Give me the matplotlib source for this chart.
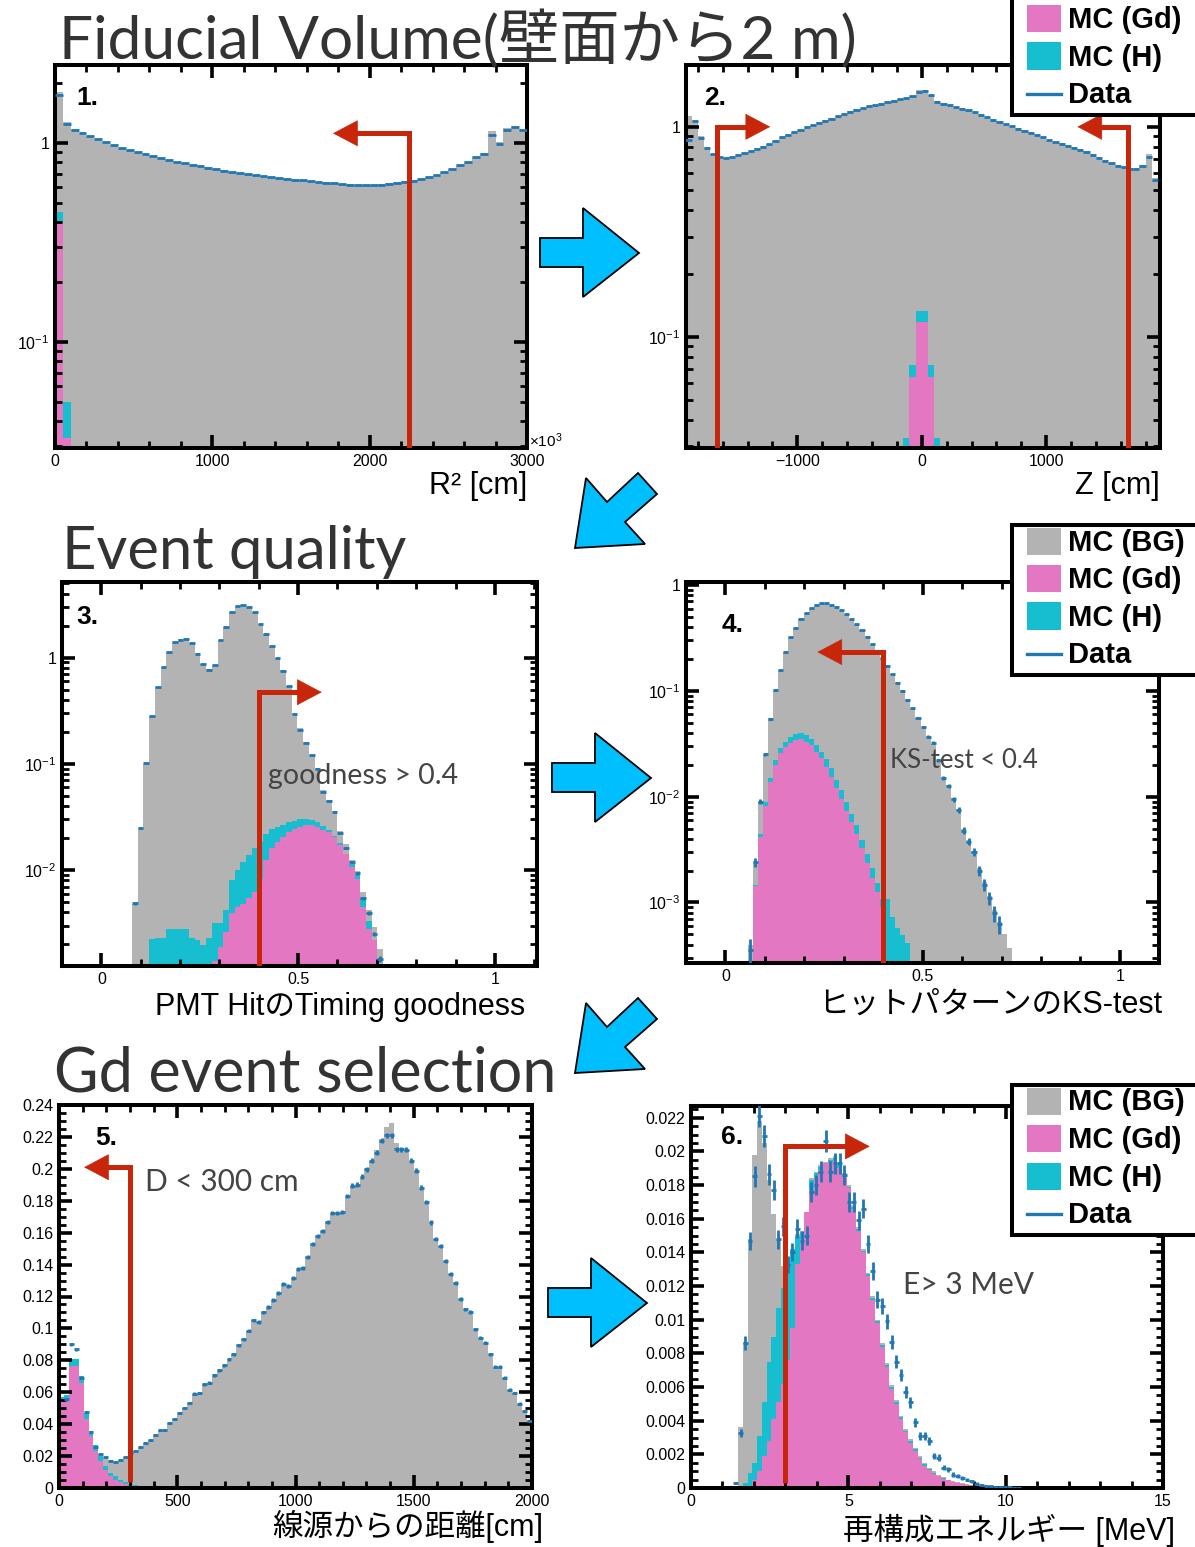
import numpy as np
import matplotlib
matplotlib.use("Agg")
import matplotlib.pyplot as plt
from matplotlib.patches import Polygon, Rectangle
from matplotlib.lines import Line2D
from matplotlib.ticker import LogLocator, MultipleLocator, FuncFormatter, NullFormatter

plt.rcParams["font.family"] = ["Liberation Sans", "Noto Sans CJK JP"]
plt.rcParams["mathtext.fontset"] = "custom"
plt.rcParams["mathtext.rm"] = "Liberation Sans"
plt.rcParams["mathtext.it"] = "Liberation Sans:italic"
plt.rcParams["mathtext.bf"] = "Liberation Sans:bold"

GRAY = "#b3b3b3"
PINK = "#e377c2"
CYAN = "#17becf"
BLUE = "#1f77b4"
RED = "#c8260b"
SKY = "#00bfff"
THIN = ["Lato", "Noto Sans CJK JP"]

# ---- 1. R^2 (x10^3 cm^2) ----
p1_edges = np.linspace(0, 3000, 61)
p1_mc = [1.80, 1.27, 1.18, 1.13, 1.09, 1.05, 1.01, 0.98, 0.95, 0.925,
         0.905, 0.882, 0.86, 0.842, 0.825, 0.808, 0.792, 0.779, 0.767, 0.755,
         0.742, 0.729, 0.718, 0.708, 0.700, 0.691, 0.683, 0.677, 0.670, 0.664,
         0.658, 0.652, 0.646, 0.640, 0.635, 0.630, 0.625, 0.622, 0.619, 0.617,
         0.619, 0.622, 0.627, 0.634, 0.642, 0.650, 0.662, 0.677, 0.693, 0.717,
         0.742, 0.775, 0.805, 0.85, 0.89, 1.15, 1.01, 1.19, 1.22, 1.18]
p1_data = [1.75, 1.25, 1.17, 1.12, 1.08, 1.045, 1.01, 0.975, 0.945, 0.925,
           0.905, 0.88, 0.857, 0.838, 0.822, 0.806, 0.79, 0.776, 0.765, 0.752,
           0.739, 0.726, 0.715, 0.705, 0.697, 0.688, 0.68, 0.674, 0.668, 0.662,
           0.655, 0.65, 0.644, 0.638, 0.633, 0.628, 0.623, 0.619, 0.616, 0.615,
           0.616, 0.618, 0.624, 0.632, 0.64, 0.647, 0.66, 0.675, 0.69, 0.715,
           0.74, 0.775, 0.80, 0.85, 0.88, 1.10, 0.99, 1.17, 1.20, 1.16]
p1_gdh = [0.45, 0.05]
p1_gd = [0.40, 0.033]

# ---- 2. Z (cm) ----
p2_edges = np.linspace(-1900, 1900, 77)
p2_mc = [1.13, 1.08, 0.90, 0.80, 0.745, 0.72, 0.712, 0.722, 0.737, 0.752,
         0.77, 0.79, 0.81, 0.83, 0.86, 0.895, 0.92, 0.945, 0.97, 1.0,
         1.025, 1.05, 1.075, 1.10, 1.125, 1.155, 1.185, 1.21, 1.235, 1.255,
         1.275, 1.295, 1.315, 1.335, 1.355, 1.375, 1.405, 1.49, 1.50, 1.42,
         1.33, 1.295, 1.27, 1.245, 1.225, 1.205, 1.18, 1.145, 1.115, 1.085,
         1.06, 1.035, 1.01, 0.985, 0.965, 0.94, 0.917, 0.895, 0.87, 0.85,
         0.833, 0.815, 0.8, 0.783, 0.765, 0.74, 0.715, 0.695, 0.675, 0.655,
         0.645, 0.632, 0.635, 0.655, 0.74, 0.57]
p2_data = [0.87, 1.06, 0.88, 0.79, 0.74, 0.715, 0.707, 0.718, 0.733, 0.748,
           0.765, 0.785, 0.805, 0.825, 0.855, 0.89, 0.915, 0.94, 0.965, 0.995,
           1.02, 1.045, 1.07, 1.095, 1.12, 1.15, 1.18, 1.205, 1.23, 1.25,
           1.27, 1.29, 1.31, 1.33, 1.35, 1.37, 1.40, 1.47, 1.48, 1.41,
           1.32, 1.29, 1.265, 1.24, 1.22, 1.20, 1.175, 1.14, 1.11, 1.08,
           1.055, 1.03, 1.005, 0.98, 0.96, 0.935, 0.912, 0.89, 0.865, 0.845,
           0.828, 0.81, 0.795, 0.778, 0.76, 0.735, 0.71, 0.69, 0.67, 0.65,
           0.64, 0.627, 0.63, 0.65, 0.72, 0.557]
p2_gdh = [0.033, 0.073, 0.132, 0.132, 0.073, 0.033]
p2_gd = [0.02, 0.064, 0.118, 0.118, 0.064, 0.02]

# ---- 3. timing goodness ----
p3_edges = 0.0778 + 0.0145 * np.arange(45)
p3_mc = [0.0048, 0.025, 0.10, 0.28, 0.53, 0.82, 1.13, 1.40, 1.48, 1.50,
         1.38, 1.10, 0.87, 0.78, 0.86, 1.45, 1.95, 2.68, 3.05, 3.15,
         3.0, 2.69, 2.07, 1.66, 1.29, 0.99, 0.76, 0.54, 0.30, 0.215,
         0.16, 0.122, 0.092, 0.057, 0.046, 0.036, 0.0235, 0.0175, 0.0125, 0.0098,
         0.0062, 0.0042, 0.0029, 0.0018]
p3_data = [0.00485, 0.0249, 0.102, 0.282, 0.53, 0.816, 1.13, 1.40, 1.47, 1.51,
           1.37, 1.09, 0.865, 0.77, 0.85, 1.45, 1.94, 2.68, 3.04, 3.15,
           2.99, 2.68, 2.06, 1.65, 1.28, 0.98, 0.75, 0.537, 0.293, 0.21,
           0.157, 0.12, 0.090, 0.0544, 0.0448, 0.0353, 0.0221, 0.016, 0.0119, 0.0093,
           0.0054, 0.00396, 0.0025, 0.00147]
p3_gdh = [0, 0, 0, 0.00222, 0.0023, 0.0023, 0.00276, 0.00276, 0.00276, 0.00276,
          0.0023, 0.0022, 0.00196, 0.0023, 0.00315, 0.00315, 0.0042, 0.008, 0.010, 0.0118,
          0.0140, 0.016, 0.0184, 0.022, 0.0246, 0.0255, 0.0265, 0.0284, 0.029, 0.030,
          0.030, 0.0295, 0.0284, 0.026, 0.024, 0.021, 0.0178, 0.0143, 0.0115, 0.009,
          0.0055, 0.0033, 0.0022, 0]
p3_gd = [0, 0, 0, 0, 0, 0, 0, 0, 0, 0,
         0, 0, 0, 0, 0.0014, 0.0019, 0.0026, 0.0039, 0.0045, 0.0048,
         0.0054, 0.0062, 0.0083, 0.0124, 0.0160, 0.0185, 0.0205, 0.0230, 0.0242, 0.0255,
         0.0265, 0.0265, 0.0255, 0.0240, 0.0228, 0.0205, 0.0171, 0.0143, 0.0107, 0.0083,
         0.0045, 0.0028, 0.0022, 0]

# ---- 4. KS-test ----
p4_edges = 0.056 + 0.0129 * np.arange(53)
p4_mc = [4.0e-4, 0.0024, 0.0092, 0.0255, 0.055, 0.103, 0.158, 0.235, 0.322, 0.397,
         0.483, 0.542, 0.604, 0.649, 0.673, 0.673, 0.649, 0.618, 0.582, 0.53,
         0.476, 0.427, 0.378, 0.327, 0.277, 0.24, 0.205, 0.174, 0.146, 0.122,
         0.101, 0.083, 0.069, 0.056, 0.046, 0.0375, 0.0315, 0.022, 0.0155, 0.0128,
         0.0097, 0.0077, 0.0050, 0.0039, 0.0031, 0.0021, 0.00155, 0.00115, 0.00085, 0.00065,
         5.0e-4, 3.7e-4]
p4_data = [3.57e-4, 0.00239, 0.009, 0.0252, 0.0543, 0.102, 0.157, 0.234, 0.321, 0.395,
           0.481, 0.54, 0.602, 0.647, 0.671, 0.671, 0.647, 0.616, 0.58, 0.528,
           0.474, 0.425, 0.376, 0.325, 0.275, 0.238, 0.203, 0.172, 0.144, 0.12,
           0.1, 0.082, 0.0685, 0.055, 0.0453, 0.037, 0.0324, 0.022, 0.015, 0.0125,
           0.00946, 0.0075, 0.00479, 0.00377, 0.00299, 0.002, 0.00147, 0.0011, 0.00079, 0.00062,
           0, 0]
p4_gdh = [0, 0.00145, 0.0044, 0.009, 0.0149, 0.022, 0.0287, 0.033, 0.037, 0.039,
          0.040, 0.038, 0.035, 0.031, 0.0267, 0.0225, 0.0185, 0.0145, 0.0115, 0.009,
          0.0069, 0.0054, 0.0039, 0.0029, 0.0021, 0.00153, 0.00107, 0.00107, 0.00073, 0.00058,
          0.00049, 0.00041]
p4_gd = [0, 0.00142, 0.0042, 0.0081, 0.0139, 0.020, 0.0258, 0.0297, 0.0324, 0.0345,
         0.035, 0.033, 0.031, 0.0267, 0.0232, 0.0192, 0.0155, 0.012, 0.0095, 0.0074,
         0.0058, 0.0044, 0.00327, 0.00234, 0.00172, 0.00127, 0.00091, 0, 0, 0,
         0, 0]

# ---- 5. distance from source (cm) ----
p5_edges = np.linspace(0, 2000, 97)
p5_mc = [0.057, 0.058, 0.0806, 0.0806, 0.070, 0.047, 0.0356, 0.027, 0.0215, 0.0195,
         0.0175, 0.0165, 0.0178, 0.0193, 0.022, 0.0234, 0.0257, 0.0282, 0.0299, 0.0335,
         0.0362, 0.0366, 0.0408, 0.0433, 0.047, 0.0502, 0.0534, 0.0592, 0.0596, 0.0649,
         0.0659, 0.0707, 0.0737, 0.0768, 0.0806, 0.0837, 0.0893, 0.0931, 0.0986, 0.105,
         0.104, 0.110, 0.1136, 0.1176, 0.1224, 0.1276, 0.1266, 0.1318, 0.137, 0.138,
         0.1448, 0.1527, 0.158, 0.161, 0.1668, 0.1722, 0.1722, 0.173, 0.183, 0.1894,
         0.19, 0.195, 0.2, 0.205, 0.212, 0.219, 0.226, 0.229, 0.216, 0.213,
         0.212, 0.205, 0.1988, 0.1883, 0.1793, 0.1664, 0.1559, 0.1517, 0.1423, 0.1339,
         0.1287, 0.1186, 0.1119, 0.1103, 0.0994, 0.0942, 0.091, 0.0837, 0.076, 0.076,
         0.069, 0.0617, 0.0596, 0.0529, 0.0481, 0.0425]
p5_data = [0, 0.0555, 0.090, 0.0868, 0.069, 0.0475, 0.035, 0.0257, 0.021, 0.0193,
           0.0172, 0.0163, 0.0178, 0.0193, 0.022, 0.0234, 0.0257, 0.0282, 0.0299, 0.0335,
           0.0362, 0.0366, 0.0408, 0.0433, 0.047, 0.0502, 0.0534, 0.0592, 0.0596, 0.0649,
           0.0659, 0.0707, 0.0737, 0.0768, 0.0806, 0.0837, 0.0893, 0.0931, 0.0986, 0.105,
           0.104, 0.110, 0.1136, 0.1176, 0.1224, 0.1276, 0.1266, 0.1318, 0.137, 0.138,
           0.1448, 0.1527, 0.158, 0.161, 0.1668, 0.1722, 0.1722, 0.173, 0.183, 0.1894,
           0.19, 0.195, 0.1998, 0.205, 0.210, 0.2176, 0.221, 0.221, 0.2124, 0.2124,
           0.212, 0.205, 0.1988, 0.1883, 0.1793, 0.1664, 0.1559, 0.1517, 0.1423, 0.1339,
           0.1287, 0.1186, 0.1119, 0.1103, 0.0994, 0.0942, 0.091, 0.0837, 0.076, 0.076,
           0.069, 0.0617, 0.0596, 0.0529, 0.0481, 0.0418]
p5_gdh = [0.057, 0.058, 0.0806, 0.0806, 0.070, 0.047, 0.0356, 0.027, 0.020, 0.0136,
          0.0094, 0.0073, 0.0052, 0.0036, 0.0027, 0.002, 0.0015, 0.0011, 0.0008, 0.0005, 0.0003]
p5_gd = [0.055, 0.0565, 0.0764, 0.0764, 0.066, 0.043, 0.0324, 0.023, 0.0167, 0.0115,
         0.0073, 0.0052, 0.0036, 0.0025, 0.0017, 0.0012, 0.0008, 0.0005, 0.0003, 0.0002, 0.0001]

# ---- 6. reconstructed energy (MeV) ----
p6_edges = 1.35 + 0.15 * np.arange(62)
p6_mc = [0, 0.0036, 0.0087, 0.0148, 0.0198, 0.0218, 0.0205, 0.0183, 0.0163, 0.0148,
         0.0132, 0.0128, 0.0142, 0.0151, 0.0153, 0.0159, 0.0184, 0.0188, 0.0192, 0.0194,
         0.0196, 0.0197, 0.0193, 0.0187, 0.0180, 0.0168, 0.0155, 0.0142, 0.0128, 0.0114,
         0.0100, 0.0086, 0.0074, 0.0061, 0.0052, 0.0043, 0.0035, 0.0029, 0.0024, 0.0019,
         0.0015, 0.0012, 0.0010, 0.0008, 0.00065, 0.0005, 0.0004, 0.00033, 0.00027, 0.00022,
         0.00018, 0.00015, 0.00012, 0.0001, 0.00008, 0.00006, 0.00005, 0.00004, 0.00003, 0.00002,
         0.00001]
p6_data = [0.0003, 0.00327, 0.00862, 0.01467, 0.01853, 0.0221, 0.0209, 0.01863, 0.0177, 0.01477,
           0.01556, 0.01328, 0.0140, 0.0154, 0.0147, 0.0150, 0.0176, 0.0180, 0.0188, 0.0206,
           0.0188, 0.0193, 0.0193, 0.0186, 0.0170, 0.0170, 0.0159, 0.0166, 0.0145, 0.0129,
           0.0112, 0.0108, 0.0099, 0.0087, 0.0075, 0.0067, 0.0057, 0.0051, 0.0039, 0.0031,
           0.0031, 0.0028, 0.0019, 0.0018, 0.0012, 0.0011, 0.0008, 0.0007, 0.0006, 0.0005,
           0.0004, 0.00026, 0.0002, 0.00014, 0.0001, 0.00008, 0.00006, 0.00004, 0.00003, 0.00002,
           0.00001]
p6_gdh = [0, 0, 0.0003, 0.0009, 0.0015, 0.0031, 0.0051, 0.0075, 0.009, 0.0107,
          0.0119, 0.0132, 0.0142, 0.015, 0.0152, 0.0158, 0.0183, 0.0187, 0.0191, 0.0193,
          0.0195, 0.0196, 0.0192, 0.0186, 0.0179, 0.0167, 0.0154, 0.0141, 0.0127, 0.0113,
          0.0099, 0.0085, 0.0073, 0.0060, 0.0051, 0.0042, 0.0034, 0.0028, 0.0023, 0.0018,
          0.0014, 0.0011, 0.0009, 0.0007, 0.00058, 0.00047, 0.00038, 0.00031, 0.00025, 0.0002,
          0.00017, 0.00014, 0.00012, 0.0001, 0.00008, 0.00006, 0.00005, 0.00004, 0.00003, 0.00002,
          0.00001]
p6_gd = [0, 0, 0, 0, 0.0005, 0.001, 0.0019, 0.0028, 0.0041, 0.0051,
         0.0062, 0.0076, 0.0095, 0.0133, 0.0148, 0.0164, 0.0177, 0.0184, 0.0189, 0.0193,
         0.0194, 0.0195, 0.019, 0.0185, 0.0178, 0.0166, 0.0153, 0.014, 0.0126, 0.0112,
         0.0098, 0.0084, 0.0072, 0.0059, 0.005, 0.0041, 0.0033, 0.0027, 0.0022, 0.0017,
         0.0013, 0.00105, 0.00085, 0.0007, 0.00055, 0.00045, 0.00036, 0.0003, 0.00024, 0.0002,
         0.00016, 0.00014, 0.00012, 0.0001, 0.00008, 0.00006, 0.00005, 0.00004, 0.00003, 0.00002,
         0.00001]

W, H = 1195, 1547
fig = plt.figure(figsize=(W / 100, H / 100), dpi=100)


def box(l, t, r, b):
    return [l / W, 1 - b / H, (r - l) / W, (b - t) / H]


def fxy(x, y):
    return x / W, 1 - y / H


def log_label(v, pos):
    e = int(round(np.log10(v)))
    return "1" if e == 0 else rf"$10^{{{e}}}$"


def style(ax, logy, xmaj, xmin, ymaj=None, ymin=None):
    for s in ax.spines.values():
        s.set_linewidth(2.9)
    ax.tick_params(which="both", direction="in", top=True, right=True,
                   labelsize=11.5, pad=4)
    ax.tick_params(which="major", length=9.5, width=2.6)
    ax.tick_params(which="minor", length=5, width=2.0)
    ax.xaxis.set_major_locator(MultipleLocator(xmaj))
    ax.xaxis.set_minor_locator(MultipleLocator(xmin))
    ax.xaxis.set_major_formatter(FuncFormatter(lambda v, p: f"{v:g}".replace("-", "\u2212")))
    if logy:
        ax.set_yscale("log")
        ax.yaxis.set_major_locator(LogLocator(base=10, numticks=10))
        ax.yaxis.set_minor_locator(LogLocator(base=10, subs=np.arange(2, 10), numticks=20))
        ax.yaxis.set_major_formatter(FuncFormatter(log_label))
        ax.yaxis.set_minor_formatter(NullFormatter())
    else:
        ax.yaxis.set_major_locator(MultipleLocator(ymaj))
        ax.yaxis.set_minor_locator(MultipleLocator(ymin))
        ax.yaxis.set_major_formatter(FuncFormatter(lambda v, p: f"{v:g}"))


def stack(ax, edges, levels, base):
    for vals, col in zip(levels, (GRAY, CYAN, PINK)):
        vals = np.maximum(np.asarray(vals, float), base)
        ax.stairs(vals, edges[:len(vals) + 1], fill=True, color=col,
                  baseline=base, lw=0)


def points(ax, edges, data, norm):
    d = np.asarray(data, float)
    c = 0.5 * (edges[1:] + edges[:-1])
    hw = 0.5 * np.diff(edges)
    m = d > 0
    ax.errorbar(c[m], d[m], xerr=hw[m], yerr=np.sqrt(d[m] / norm), fmt="none",
                ecolor=BLUE, elinewidth=2.0, capsize=0, zorder=4)


def cut_arrow(ax, x, y_low, y_top, x_tip):
    x0, x1 = ax.get_xlim()
    head = 24 * (x1 - x0) / (ax.get_position().width * W)
    sgn = np.sign(x_tip - x)
    x_end = x_tip - sgn * head * 0.7
    ax.plot([x, x, x_end], [y_low, y_top, y_top], color=RED, lw=3.6,
            solid_joinstyle="miter", solid_capstyle="butt", zorder=6)
    ax.annotate("", xy=(x_tip, y_top), xytext=(x_end - sgn * head, y_top),
                arrowprops=dict(arrowstyle="-|>,head_length=17,head_width=9",
                                mutation_scale=1, fc=RED, ec=RED, lw=0.5,
                                shrinkA=0, shrinkB=0), zorder=6)


# panel 1
ax1 = fig.add_axes(box(55, 65, 527, 448))
ax1.set_xlim(0, 3000)
ax1.set_ylim(0.0293, 2.47)
style(ax1, True, 1000, 200)
stack(ax1, p1_edges, [p1_mc, p1_gdh, p1_gd], 1e-6)
points(ax1, p1_edges, p1_data, 1e7)
cut_arrow(ax1, 2250, 0.0293, 1.12, 1767)

# panel 2
ax2 = fig.add_axes(box(686, 65, 1160, 448))
ax2.set_xlim(-1895, 1915)
ax2.set_ylim(0.0295, 1.97)
style(ax2, True, 1000, 200)
stack(ax2, p2_edges, [p2_mc], 1e-6)
stack(ax2, p2_edges[35:], [p2_gdh, p2_gdh, p2_gd], 1e-6)
points(ax2, p2_edges, p2_data, 1e7)
cut_arrow(ax2, -1644, 0.0295, 1.0, -1218)
cut_arrow(ax2, 1654, 0.0295, 1.0, 1251)

# panel 3
ax3 = fig.add_axes(box(62, 582, 537, 966))
ax3.set_xlim(-0.1, 1.107)
ax3.set_ylim(1.25e-3, 5.14)
style(ax3, True, 0.5, 0.1)
stack(ax3, p3_edges, [p3_mc, p3_gdh, p3_gd], 1e-7)
points(ax3, p3_edges, p3_data, 1.5e5)
cut_arrow(ax3, 0.4, 1.25e-3, 0.472, 0.56)

# panel 4
ax4 = fig.add_axes(box(686, 582, 1159, 963))
ax4.set_xlim(-0.1, 1.099)
ax4.set_ylim(2.68e-4, 1.07)
style(ax4, True, 0.5, 0.1)
stack(ax4, p4_edges, [p4_mc, p4_gdh, p4_gd], 1e-7)
points(ax4, p4_edges, p4_data, 4.2e4)
cut_arrow(ax4, 0.4, 2.68e-4, 0.233, 0.233)

# panel 5
ax5 = fig.add_axes(box(59, 1105, 532, 1488))
ax5.set_xlim(0, 2000)
ax5.set_ylim(0, 0.24)
style(ax5, False, 500, 100, 0.02, 0.005)
stack(ax5, p5_edges, [p5_mc, p5_gdh, p5_gd], 0)
points(ax5, p5_edges, p5_data, 8.9e4)
cut_arrow(ax5, 300, 0.004, 0.201, 106)

# panel 6
ax6 = fig.add_axes(box(691, 1106, 1163, 1488))
ax6.set_xlim(0, 15)
ax6.set_ylim(0, 0.0227)
style(ax6, False, 5, 1, 0.002, 0.0005)
stack(ax6, p6_edges, [p6_mc, p6_gdh, p6_gd], 0)
points(ax6, p6_edges, p6_data, 4.9e4)
cut_arrow(ax6, 3.0, 0.0003, 0.0203, 5.68)

# headings
fig.text(*fxy(59, 59), "Fiducial Volume(壁面から2 m)", fontsize=43.5, family=THIN,
         color="#333333", va="baseline")
fig.text(*fxy(62, 569), "Event quality", fontsize=43, family=THIN,
         color="#333333", va="baseline")
fig.text(*fxy(54, 1092), "Gd event selection", fontsize=44, family=THIN,
         color="#333333", va="baseline")

# cut descriptions
fig.text(*fxy(268, 784), "goodness > 0.4", fontsize=20.5, family=THIN,
         color="#444444", va="baseline")
fig.text(*fxy(890, 768), "KS-test < 0.4", fontsize=18.5, family=THIN,
         color="#444444", va="baseline")
fig.text(*fxy(145, 1191), "D < 300 cm", fontsize=21.5, family=THIN,
         color="#444444", va="baseline")
fig.text(*fxy(903, 1294), "E> 3 MeV", fontsize=21.5, family=THIN,
         color="#444444", va="baseline")

# axis titles
for x, y, s in [(527, 494, "R² [cm]"), (1160, 494, "Z [cm]"),
                (525, 1015, "PMT HitのTiming goodness"),
                (1162, 1013, "ヒットパターンのKS-test"),
                (543, 1536, "線源からの距離[cm]"),
                (1175, 1540, "再構成エネルギー [MeV]")]:
    fig.text(*fxy(x, y), s, fontsize=22, ha="right", va="baseline")
fig.text(*fxy(529, 441), r"×10$^{3}$", fontsize=11, va="center")

# panel numbers
for x, y, s in [(76, 98, "1."), (704, 98, "2."), (76, 617, "3."),
                (722, 625, "4."), (95, 1138, "5."), (721, 1137, "6.")]:
    fig.text(*fxy(x, y), s, fontsize=19, weight="bold", va="center")

# flow arrows between the steps
right_shape = [(0, 30), (43, 30), (43, 0), (99, 45), (43, 89), (43, 59), (0, 59)]
diag_shape = [(2, 75), (72, 71), (52, 49), (84, 21), (65, 0), (34, 29), (13, 5)]
for shape, (ox, oy) in [(right_shape, (540, 208)), (right_shape, (552, 733)),
                        (right_shape, (548, 1258)), (diag_shape, (573, 473)),
                        (diag_shape, (573, 998))]:
    pts = [fxy(ox + dx, oy + dy) for dx, dy in shape]
    fig.add_artist(Polygon(pts, closed=True, fc=SKY, ec="black", lw=1.3,
                           transform=fig.transFigure, zorder=5))

# legends; the top one runs off the page, so its first row is not drawn
entries = [("MC (BG)", GRAY), ("MC (Gd)", PINK), ("MC (H)", CYAN), ("Data", None)]
for top in (-35, 525, 1085):
    fig.add_artist(Rectangle(fxy(1012, top + 150), 220 / W, 150 / H, fc="white",
                             ec="black", lw=2.9, transform=fig.transFigure, zorder=6))
    for i, (lab, col) in enumerate(entries):
        yc = top + 16 + 37.5 * i
        if yc < 0:
            continue
        if col is None:
            fig.add_artist(Line2D([1027 / W, 1061 / W], [1 - yc / H] * 2, color=BLUE,
                                  lw=2.4, transform=fig.transFigure, zorder=7))
        else:
            fig.add_artist(Rectangle(fxy(1027, yc + 13.5), 34 / W, 27 / H, fc=col,
                                     ec="none", transform=fig.transFigure, zorder=7))
        fig.text(*fxy(1068, yc + 9.5), lab, fontsize=21, weight="bold",
                 va="baseline", zorder=8)

fig.savefig("out.png", dpi=100)
